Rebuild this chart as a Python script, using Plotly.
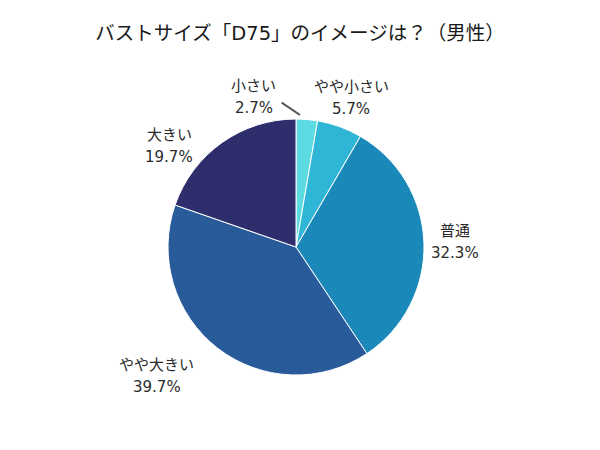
import math
import plotly.graph_objects as go

# ---- data ----
labels = ["小さい", "やや小さい", "普通", "やや大きい", "大きい"]
values = [2.7, 5.7, 32.3, 39.7, 19.7]

# ---- style / layout ----
colors = ["#5cdbe3", "#2fb6d6", "#1b88ba", "#295a99", "#2d2e6b"]
W, H = 600, 450
CX, CY, R = 296, 247, 128          # pie centre and radius (px)
LABEL_R = 162                      # radial distance of label centres (px)
# per-label nudges (px) applied after radial placement
label_nudge = [(-56, 11), (0, 3), (-3, 0), (-40, 1), (-33, 31)]
LINE_GAP = 11
FONT = "DejaVu Sans, Noto Sans CJK JP"

fig = go.Figure(go.Pie(
    labels=labels,
    values=values,
    sort=False,
    direction="clockwise",
    rotation=0,
    marker=dict(colors=colors, line=dict(color="white", width=1)),
    textinfo="none",
    domain=dict(x=[(CX - R) / W, (CX + R) / W], y=[(H - CY - R) / H, (H - CY + R) / H]),
    showlegend=False,
    hoverinfo="label+percent",
))

total = sum(values)
cum = 0.0
annotations = []
label_centres = []
for lab, v, (ndx, ndy) in zip(labels, values, label_nudge):
    mid = (cum + v / 2) / total * 2 * math.pi
    cum += v
    px = CX + LABEL_R * math.sin(mid) + ndx
    py = CY - LABEL_R * math.cos(mid) + ndy
    label_centres.append((px, py))
    for txt, oy in ((lab, -LINE_GAP), (f"{v:.1f}%", LINE_GAP)):
        annotations.append(dict(
            text=txt, x=px / W, y=1 - (py + oy) / H, xref="paper", yref="paper",
            xanchor="center", yanchor="middle", showarrow=False,
            font=dict(size=15, color="#2a2a2a", family=FONT),
        ))

# connector line for the smallest slice (label moved aside)
sx, sy = label_centres[0]
fig.add_shape(type="line", xref="paper", yref="paper",
              x0=(sx + 28) / W, y0=1 - (sy + 6) / H,
              x1=(CX + 4) / W, y1=1 - (CY - R - 4) / H,
              line=dict(color="#555555", width=2))

fig.update_layout(
    width=W, height=H,
    margin=dict(l=0, r=0, t=0, b=0),
    paper_bgcolor="white",
    annotations=annotations,
    title=dict(text="バストサイズ「D75」のイメージは？（男性）", x=300 / W, xanchor="center",
               y=1 - 33 / H, yanchor="middle",
               font=dict(size=19.5, color="#1a1a1a", family=FONT)),
)

fig.write_html("out.html")
